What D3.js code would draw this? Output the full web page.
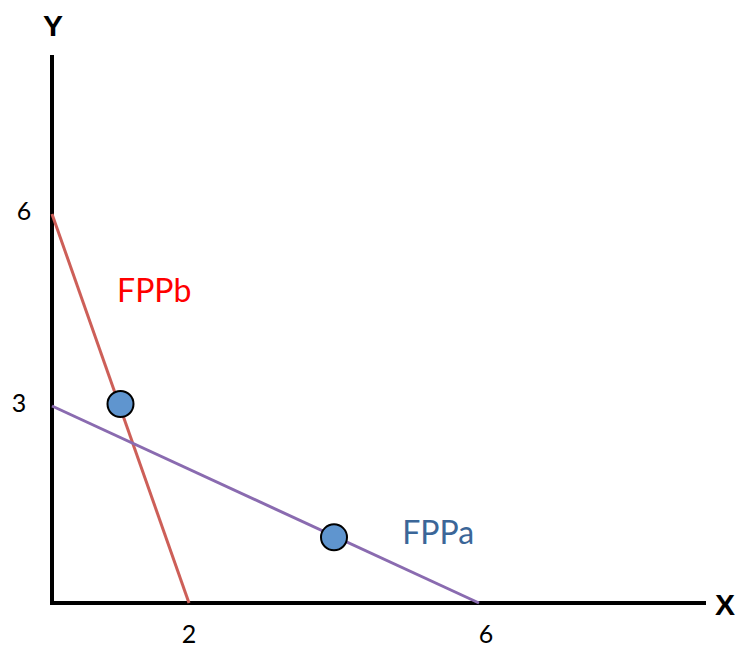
<!DOCTYPE html>
<html>
<head>
<meta charset="utf-8">
<script src="https://cdn.jsdelivr.net/npm/d3@7"></script>
<style>
  html, body { margin: 0; padding: 0; background: #ffffff; }
  svg { display: block; }
</style>
</head>
<body>
<svg id="chart" width="736" height="648"></svg>
<script>
// ---- data ----
const xTicks = [2, 6];
const yTicks = [3, 6];
const fppb = [[0, 6], [2, 0]];        // FPPb line endpoints
const fppa = [[0, 3], [6, 0]];        // FPPa line endpoints
const points = [[1, 3], [4, 1]];      // marked points
const lineLabels = [
  { name: "FPPb", at: [0.95, 4.62], color: "#ff0000" },
  { name: "FPPa", at: [4.94, 0.9], color: "#3b6698" }
];

const svg = d3.select("#chart");

// scales (hand-drawn axis spacing in original is slightly non-uniform)
const x = d3.scaleLinear().domain([0, 2, 6]).range([52, 189, 479]);
const y = d3.scaleLinear().domain([0, 3, 6]).range([603, 406, 214]);

const font = "Lato, 'Open Sans', sans-serif";

// axes lines
svg.append("line")
  .attr("x1", x(0)).attr("x2", x(0))
  .attr("y1", 55).attr("y2", y(0) + 2)
  .attr("stroke", "#000").attr("stroke-width", 4);
svg.append("line")
  .attr("x1", x(0) - 2).attr("x2", 706)
  .attr("y1", y(0)).attr("y2", y(0))
  .attr("stroke", "#000").attr("stroke-width", 4);

// axis titles
svg.append("text").text("Y")
  .attr("x", 53).attr("y", 36)
  .attr("text-anchor", "middle")
  .attr("font-family", "'Liberation Sans', Arial, sans-serif")
  .attr("font-weight", "bold").attr("font-size", 30);
svg.append("text").text("X")
  .attr("x", 725).attr("y", 615)
  .attr("text-anchor", "middle")
  .attr("font-family", "'Liberation Sans', Arial, sans-serif")
  .attr("font-weight", "bold").attr("font-size", 30);

// tick labels
svg.selectAll(".xt").data(xTicks).enter().append("text")
  .attr("class", "xt")
  .text(d => d)
  .attr("x", d => x(d) + (d === 6 ? 7 : 0))
  .attr("y", 643)
  .attr("text-anchor", "middle")
  .attr("font-family", font).attr("font-size", 25);
svg.selectAll(".yt").data(yTicks).enter().append("text")
  .attr("class", "yt")
  .text(d => d)
  .attr("x", d => d === 6 ? 24 : 19)
  .attr("y", d => y(d) + 6)
  .attr("text-anchor", "middle")
  .attr("font-family", font).attr("font-size", 25);

// lines
const lineGen = d3.line().x(d => x(d[0])).y(d => y(d[1]));
svg.append("path").datum(fppb)
  .attr("d", lineGen)
  .attr("fill", "none").attr("stroke", "#cd5f58").attr("stroke-width", 3);
svg.append("path").datum(fppa)
  .attr("d", lineGen)
  .attr("fill", "none").attr("stroke", "#8a6bb0").attr("stroke-width", 3);

// points
svg.selectAll(".pt").data(points).enter().append("circle")
  .attr("class", "pt")
  .attr("cx", d => x(d[0]))
  .attr("cy", d => y(d[1]) - (d[1] === 3 ? 2 : 0))
  .attr("r", 13)
  .attr("fill", "#5f95cf")
  .attr("stroke", "#000").attr("stroke-width", 2);

// line labels
svg.selectAll(".ll").data(lineLabels).enter().append("text")
  .attr("class", "ll")
  .text(d => d.name)
  .attr("x", d => x(d.at[0]))
  .attr("y", d => y(d.at[1]))
  .attr("fill", d => d.color)
  .attr("font-family", font).attr("font-size", 32);
</script>
</body>
</html>
